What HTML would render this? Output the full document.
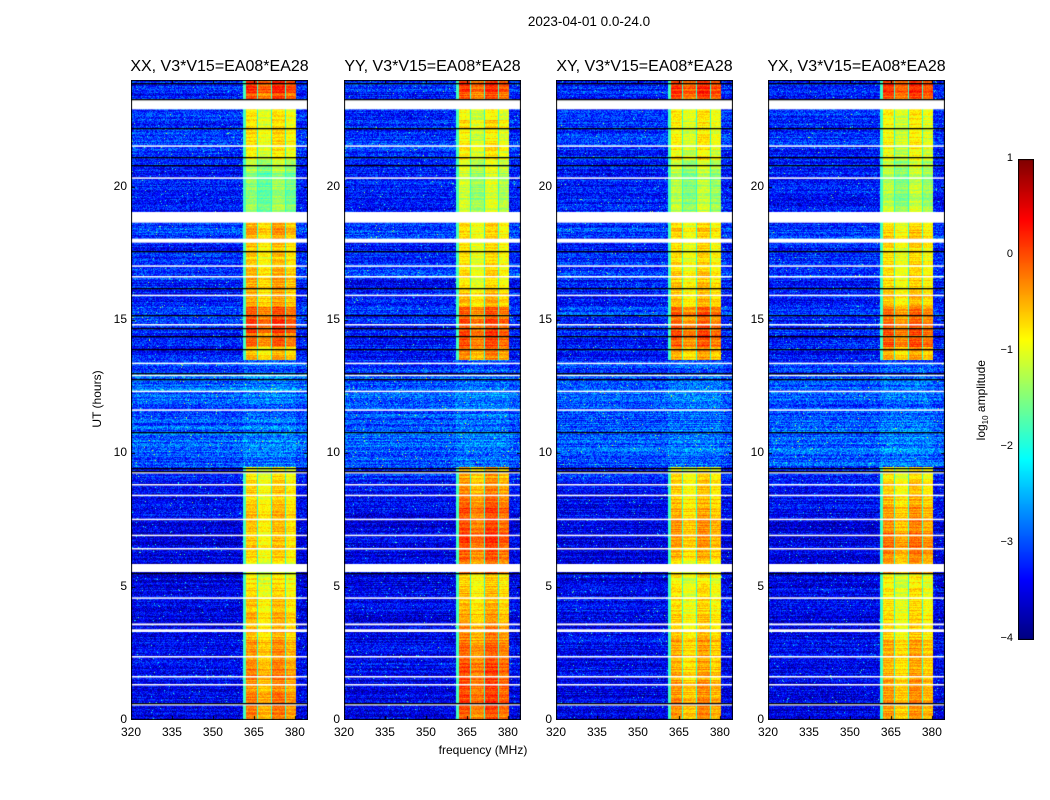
<!DOCTYPE html>
<html><head><meta charset="utf-8">
<style>
body{margin:0;background:#fff;font-family:"Liberation Sans",sans-serif;}
#root{position:relative;width:1050px;height:800px;overflow:hidden;background:#fff;}
.t{position:absolute;white-space:nowrap;color:#000;}
canvas{position:absolute;}
</style></head><body>
<div id="root">
<div class="t" style="left:489px;top:14px;width:200px;text-align:center;font-size:13.5px;">2023-04-01 0.0-24.0</div>
<div class="t" style="left:47px;top:392px;width:100px;text-align:center;font-size:12px;transform:rotate(-90deg);">UT (hours)</div>
<div class="t" style="left:403px;top:743px;width:160px;text-align:center;font-size:12px;">frequency (MHz)</div>
<div class="t" style="left:922px;top:392px;width:120px;text-align:center;font-size:12px;transform:rotate(-90deg);">log<sub style="font-size:8px">10</sub> amplitude</div>
<canvas id="cb" width="16" height="481" style="left:1018px;top:159px;"></canvas>
</div>
<script>
const panels=["XX, V3*V15=EA08*EA28","YY, V3*V15=EA08*EA28","XY, V3*V15=EA08*EA28","YX, V3*V15=EA08*EA28"];
const freqTicks=[320,335,350,365,380];
const hourTicks=[0,5,10,15,20];
const cbTicks=[1,0,-1,-2,-3,-4];
// band RFI level (log10 amp) per half hour, 48 values from 0h to 24h, per panel (NaN = no band)
const bandXX=[-0.3,-0.3,-0.4,-0.3,-0.4,-0.4,-0.6,-0.5,-0.6,-0.7,-0.8,-0.9,-0.7,-0.6,-0.6,-0.6,-0.7,-0.7,-0.8,NaN,NaN,NaN,NaN,NaN,NaN,NaN,NaN,-0.6,-0.2,0.0,-0.1,-0.5,-0.5,-0.5,-0.7,-0.6,-0.5,-0.6,-1.4,-1.5,-1.5,-1.3,-0.9,-0.8,-0.8,-0.9,-0.1,0.1];
const bandYY=[-0.1,0.0,0.0,0.0,-0.1,-0.2,-0.3,-0.4,-0.6,-0.6,-0.7,-0.3,-0.1,0.0,0.0,0.0,-0.2,-0.4,-0.5,NaN,NaN,NaN,NaN,NaN,NaN,NaN,NaN,-0.3,0.0,0.0,-0.1,-0.6,-0.7,-0.8,-0.8,-0.8,-0.8,-0.8,-1.1,-1.2,-1.2,-1.1,-0.9,-0.9,-0.8,-0.9,-0.1,0.0];
const bandXY=[-0.4,-0.4,-0.4,-0.5,-0.5,-0.5,-0.7,-0.7,-0.8,-0.8,-0.9,-0.8,-0.5,-0.4,-0.4,-0.5,-0.6,-0.7,-0.8,NaN,NaN,NaN,NaN,NaN,NaN,NaN,NaN,-0.5,-0.1,-0.1,-0.2,-0.6,-0.7,-0.7,-0.8,-0.8,-0.7,-0.8,-1.3,-1.3,-1.3,-1.2,-0.9,-0.9,-0.9,-0.9,0.0,0.1];
const bandYX=[-0.4,-0.4,-0.4,-0.5,-0.5,-0.5,-0.7,-0.7,-0.8,-0.8,-0.9,-0.4,-0.3,-0.2,-0.3,-0.4,-0.6,-0.7,-0.8,NaN,NaN,NaN,NaN,NaN,NaN,NaN,NaN,-0.5,-0.1,-0.1,-0.2,-0.6,-0.7,-0.7,-0.8,-0.8,-0.7,-0.8,-1.2,-1.3,-1.3,-1.2,-0.9,-0.9,-0.9,-0.9,0.0,0.1];
const bandLevels=[bandXX,bandYY,bandXY,bandYX];
// background level per half hour
const bgLevel=[-3.5,-3.5,-3.5,-3.4,-3.4,-3.4,-3.5,-3.5,-3.4,-3.4,-3.5,-3.5,-3.5,-3.5,-3.5,-3.4,-3.4,-3.4,-3.2,-3.0,-2.9,-2.9,-3.0,-3.0,-2.9,-3.0,-3.1,-3.3,-3.3,-3.2,-3.1,-3.3,-3.3,-3.1,-3.2,-3.3,-3.1,-3.2,-3.3,-3.3,-3.3,-3.3,-3.2,-3.1,-3.2,-3.2,-3.3,-3.2];
// flagged (white) intervals [start,end] hours
const gapsStart=[0.55,1.3,1.6,2.35,3.3,3.55,4.55,5.55,6.4,6.9,7.5,8.4,8.8,9.25,11.6,12.3,12.9,13.35,14.8,15.9,16.6,17.0,17.9,18.65,20.3,21.5,22.9];
const gapsEnd=[0.6,1.35,1.65,2.4,3.4,3.62,4.6,5.85,6.45,6.95,7.55,8.45,8.85,9.3,11.65,12.35,12.95,13.4,14.85,15.95,16.65,17.05,18.05,19.05,20.35,21.55,23.25];
// black (zero) lines hours
const blackLines=[0.62,5.5,9.35,9.45,10.8,12.8,13.0,13.9,14.4,14.7,15.2,16.2,17.6,20.8,21.1,22.2,23.27,23.9];
const fMin=320,fMax=384.8,hMin=0,hMax=24;
const PW=177,PH=640,PT=80;
const PLX=[131,344,556,768];
function jet(v){let t=(v+4)/5;t=Math.max(0,Math.min(1,t));const c=x=>Math.round(255*Math.max(0,Math.min(1,1.5-Math.abs(x))));return [c(4*t-3),c(4*t-2),c(4*t-1)];}
function hash(a,b,c){let h=(a*374761393+b*668265263+c*2147483647)|0;h=(h^(h>>>13))*1274126177|0;return ((h^(h>>>16))>>>0)/4294967295;}
const xs=f=>(f-fMin)/(fMax-fMin)*PW;
const ys=h=>PH-(h-hMin)/(hMax-hMin)*PH;
const root=document.getElementById('root');
function addText(txt,x,y,w,align,size,name){const d=document.createElement('div');d.className='t';d.textContent=txt;d.style.left=x+'px';d.style.top=y+'px';d.style.width=w+'px';d.style.textAlign=align;d.style.fontSize=size+'px';


root.appendChild(d);}
panels.forEach((title,p)=>{
 const cv=document.createElement('canvas');cv.width=PW;cv.height=PH;cv.style.left=PLX[p]+'px';cv.style.top=PT+'px';
 
 
 root.appendChild(cv);
 const ctx=cv.getContext('2d');const img=ctx.createImageData(PW,PH);const band=bandLevels[p];
 for(let y=0;y<PH;y++){
  const h=hMax-(y+0.5)/PH*hMax;const hi=Math.min(47,Math.floor(h*2));
  const rowN=(hash(y,p,7)-0.5)*0.5;
  for(let x=0;x<PW;x++){
   const f=fMin+(x+0.5)/PW*(fMax-fMin);
   let v=bgLevel[hi]+rowN+(hash(x,y,p)-0.5)*0.9;
   if(hash(x,y,p+11)>0.993)v+=1.5;
   const bl=band[hi];
   if(!isNaN(bl)&&f>=361&&f<=380.5){
     const sub=Math.floor((f-361)/5.1);
     v=bl+[0.05,-0.2,0.1,-0.1][Math.min(3,sub)]+rowN*0.8+(hash(x,y,p+3)-0.5)*0.35;
     const fr=(f-361)%5.1; if(fr<0.4&&f>362)v=-1.9;
     if(f<362)v=-1.8;
   } else if(isNaN(bl)&&f>=361&&f<=380.5){v+=0.15;}
   const c=jet(v);const i=(y*PW+x)*4;img.data[i]=c[0];img.data[i+1]=c[1];img.data[i+2]=c[2];img.data[i+3]=255;
  }}
 ctx.putImageData(img,0,0);
 ctx.fillStyle='#fff';
 gapsStart.forEach((s,i)=>{const y0=ys(gapsEnd[i]),y1=ys(s);ctx.fillRect(0,y0,PW,Math.max(1.5,y1-y0));});
 ctx.fillStyle='#000';
 blackLines.forEach(h=>ctx.fillRect(0,Math.round(ys(h)),PW,1.3));
 ctx.strokeStyle='#000';ctx.lineWidth=1;ctx.strokeRect(0.5,0.5,PW-1,PH-1);
 ctx.beginPath();
 freqTicks.forEach(f=>{const x=Math.round(xs(f))+0.5;ctx.moveTo(x,PH);ctx.lineTo(x,PH-4);ctx.moveTo(x,0);ctx.lineTo(x,4);});
 hourTicks.forEach(h=>{const y=Math.round(ys(h))+0.5;ctx.moveTo(0,y);ctx.lineTo(4,y);ctx.moveTo(PW,y);ctx.lineTo(PW-4,y);});
 ctx.stroke();
 addText(title,PLX[p]-30,PT-22,PW+60,'center',16,'panel-title-'+title.slice(0,2).toLowerCase());
 freqTicks.forEach(f=>addText(String(f),PLX[p]+xs(f)-20,PT+PH+5,40,'center',12,'x-tick-label'));
 hourTicks.forEach(h=>addText(String(h),PLX[p]-44,PT+ys(h)-8,40,'right',12,'y-tick-label'));
});
// colorbar
const cb=document.getElementById('cb');const cc=cb.getContext('2d');
for(let y=0;y<481;y++){const v=1-y/480*5;const c=jet(v);cc.fillStyle=`rgb(${c[0]},${c[1]},${c[2]})`;cc.fillRect(0,y,16,1);}
cc.strokeStyle='#000';cc.strokeRect(0.5,0.5,15,480);
cbTicks.forEach(t=>{const y=159+(1-t)/5*480;addText(t<0?'\u2212'+(-t):String(t),983,y-7,30,'right',11,'colorbar-tick-label');});
</script>
</body></html>
